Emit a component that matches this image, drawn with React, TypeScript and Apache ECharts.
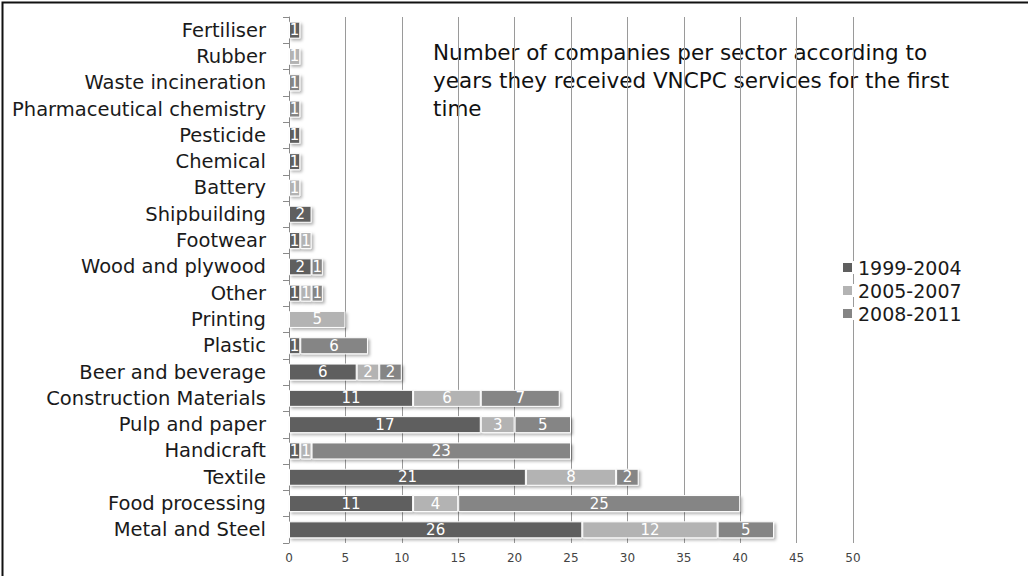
import React, { useEffect, useRef } from "react";
import * as echarts from "echarts";

const categories = [
  "Fertiliser", "Rubber", "Waste incineration", "Pharmaceutical chemistry", "Pesticide",
  "Chemical", "Battery", "Shipbuilding", "Footwear", "Wood and plywood", "Other",
  "Printing", "Plastic", "Beer and beverage", "Construction Materials", "Pulp and paper",
  "Handicraft", "Textile", "Food processing", "Metal and Steel",
];
const s1999 = [1, null, null, null, 1, 1, null, 2, 1, 2, 1, null, 1, 6, 11, 17, 1, 21, 11, 26];
const s2005 = [null, 1, null, null, null, null, 1, null, 1, null, 1, 5, null, 2, 6, 3, 1, 8, 4, 12];
const s2008 = [null, null, 1, 1, null, null, null, null, null, 1, 1, null, 6, 2, 7, 5, 23, 2, 25, 5];
const seriesNames = ["1999-2004", "2005-2007", "2008-2011"];
const xTicks = [0, 5, 10, 15, 20, 25, 30, 35, 40, 45, 50];
const titleText = "Number of companies per sector according to\nyears they received VNCPC services for the first\ntime";

const colors = ["#5f5f5f", "#b3b3b3", "#858585"];
const FONT = "'DejaVu Sans', sans-serif";

export default function App() {
  const ref = useRef<HTMLDivElement>(null);
  useEffect(() => {
    const chart = echarts.init(ref.current!, null, { renderer: "svg" });
    const datasets = [s1999, s2005, s2008];
    chart.setOption({
      animation: false,
      backgroundColor: "#fff",
      textStyle: { fontFamily: FONT },
      grid: { left: 289, right: 175, top: 17, bottom: 33, containLabel: false },
      xAxis: {
        type: "value",
        min: xTicks[0],
        max: xTicks[xTicks.length - 1],
        interval: 5,
        axisLine: { show: false },
        axisTick: { show: false },
        axisLabel: { fontSize: 12, color: "#444", margin: 9, fontFamily: FONT },
        splitLine: { show: true, lineStyle: { color: "#9a9a9a", width: 1 } },
      },
      yAxis: {
        type: "category",
        data: categories,
        inverse: true,
        axisLine: { show: true, lineStyle: { color: "#8a8a8a", width: 1 } },
        axisTick: { show: true, length: 6, lineStyle: { color: "#8a8a8a" } },
        axisLabel: { fontSize: 19.5, color: "#1a1a1a", margin: 23, fontFamily: FONT },
      },
      legend: {
        orient: "vertical",
        left: 841,
        top: 258,
        padding: 0,
        itemWidth: 11,
        itemHeight: 11,
        itemGap: 4,
        icon: "rect",
        textStyle: { fontSize: 19, color: "#1a1a1a", fontFamily: FONT },
        data: seriesNames,
      },
      series: datasets.map((d, i) => ({
        name: seriesNames[i],
        type: "bar",
        stack: "total",
        data: d,
        barWidth: 17,
        itemStyle: {
          color: colors[i],
          borderColor: "#fff",
          borderWidth: 1,
          shadowBlur: 3,
          shadowOffsetX: 2,
          shadowOffsetY: 2,
          shadowColor: "rgba(0,0,0,0.3)",
        },
        label: {
          show: true,
          position: "inside",
          color: "#fff",
          fontSize: 15,
          fontFamily: FONT,
          formatter: (p: any) => (p.value == null ? "" : String(p.value)),
        },
      })),
      graphic: [
        {
          type: "text",
          left: 433,
          top: 38,
          style: {
            text: titleText,
            fontSize: 21.5,
            lineHeight: 28,
            fill: "#111",
            fontFamily: FONT,
          },
        },
        {
          type: "rect",
          left: 0,
          top: 0,
          shape: { x: 0, y: 0, width: 1027, height: 575 },
          style: { fill: "none", stroke: "#111", lineWidth: 2 },
          silent: true,
        },
      ],
    });
    return () => chart.dispose();
  }, []);
  return (
    <div style={{ position: "fixed", left: 0, top: 0, width: 1028, height: 576 }}>
      <div ref={ref} style={{ width: 1028, height: 576 }} />
    </div>
  );
}
